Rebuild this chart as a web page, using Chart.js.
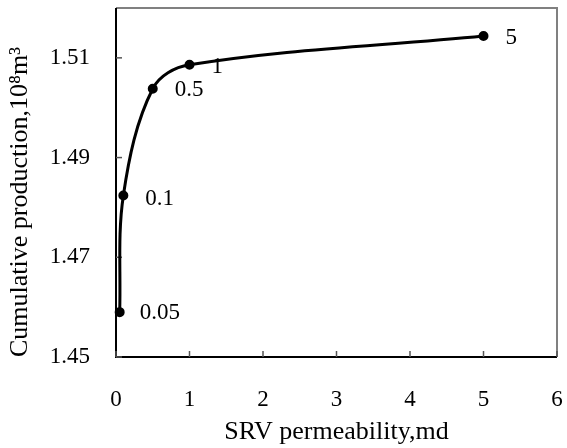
<!DOCTYPE html>
<html>
<head>
<meta charset="utf-8">
<script src="https://cdn.jsdelivr.net/npm/chart.js@4"></script>
<style>
  html, body { margin: 0; padding: 0; background: #fff; }
  #wrap { width: 567px; height: 448px; }
</style>
</head>
<body>
<div id="wrap"><canvas id="chart" width="567" height="448"></canvas></div>
<script>
// SRV permeability vs cumulative production
const permeability = [0.05, 0.1, 0.5, 1, 5];
const production = [1.459, 1.4824, 1.5038, 1.5086, 1.5144];
const pointLabels = ['0.05', '0.1', '0.5', '1', '5'];
const yTicks = [1.45, 1.47, 1.49, 1.51];
const xTicks = [0, 1, 2, 3, 4, 5, 6];

const FONT = 'Liberation Serif';
const SIZE = 23;
const TITLE_SIZE = 26;

// offsets for point labels (px, from the point)
const labelOffsets = [[20, 1], [22, 3], [22, 1], [22, 2], [22, 2]];

const pointLabelPlugin = {
  id: 'pointLabels',
  afterDatasetsDraw(chart) {
    const ctx = chart.ctx;
    const meta = chart.getDatasetMeta(0);
    ctx.save();
    ctx.font = SIZE + 'px ' + FONT;
    ctx.fillStyle = '#000';
    ctx.textBaseline = 'middle';
    ctx.textAlign = 'left';
    meta.data.forEach((pt, i) => {
      ctx.fillText(pointLabels[i], pt.x + labelOffsets[i][0], pt.y + labelOffsets[i][1]);
    });
    ctx.restore();
  }
};

// inward tick marks and box frame
const frameTicks = {
  id: 'frameTicks',
  beforeDatasetsDraw(chart) {
    const { ctx, chartArea: a, scales } = chart;
    ctx.save();
    ctx.strokeStyle = '#808080';
    ctx.lineWidth = 2;
    ctx.beginPath();
    ctx.moveTo(a.left, a.top);
    ctx.lineTo(a.right, a.top);
    ctx.lineTo(a.right, a.bottom);
    ctx.stroke();
    ctx.strokeStyle = '#000';
    ctx.beginPath();
    ctx.moveTo(a.left, a.top);
    ctx.lineTo(a.left, a.bottom);
    ctx.lineTo(a.right, a.bottom);
    ctx.stroke();
    ctx.strokeStyle = '#555';
    ctx.lineWidth = 1.5;
    xTicks.forEach(v => {
      const x = scales.x.getPixelForValue(v);
      ctx.beginPath();
      ctx.moveTo(x, a.bottom);
      ctx.lineTo(x, a.bottom - 6);
      ctx.stroke();
    });
    yTicks.forEach(v => {
      const y = scales.y.getPixelForValue(v);
      ctx.beginPath();
      ctx.moveTo(a.left, y);
      ctx.lineTo(a.left + 6, y);
      ctx.stroke();
    });
    ctx.restore();
  }
};

new Chart(document.getElementById('chart'), {
  type: 'scatter',
  data: {
    datasets: [{
      data: permeability.map((x, i) => ({ x: x, y: production[i] })),
      showLine: true,
      borderColor: '#000',
      backgroundColor: '#000',
      borderWidth: 3,
      pointRadius: 3.5,
      tension: 0.35
    }]
  },
  options: {
    responsive: false,
    animation: false,
    clip: false,
    layout: { padding: { top: 8, right: 10, left: 0, bottom: 0 } },
    plugins: { legend: { display: false }, tooltip: { enabled: false } },
    scales: {
      x: {
        type: 'linear',
        min: 0,
        max: 6,
        afterBuildTicks: s => { s.ticks = xTicks.map(v => ({ value: v })); },
        afterFit: s => { s.height = 91; s.paddingLeft = 0; s.paddingRight = 0; },
        grid: { display: false, drawTicks: false },
        border: { display: false },
        ticks: {
          color: '#000',
          font: { family: FONT, size: SIZE },
          padding: 29
        },
        title: {
          display: true,
          text: 'SRV permeability,md',
          color: '#000',
          font: { family: FONT, size: TITLE_SIZE },
          padding: { top: 0, bottom: 0 }
        }
      },
      y: {
        min: 1.45,
        max: 1.52,
        afterBuildTicks: s => { s.ticks = yTicks.map(v => ({ value: v })); },
        afterFit: s => { s.width = 116; s.paddingTop = 0; s.paddingBottom = 0; },
        grid: { display: false, drawTicks: false },
        border: { display: false },
        ticks: {
          color: '#000',
          font: { family: FONT, size: SIZE },
          padding: 26,
          callback: v => v.toFixed(2)
        },
        title: {
          display: true,
          align: 'start',
          text: 'Cumulative production,10⁸m³',
          color: '#000',
          font: { family: FONT, size: TITLE_SIZE },
          padding: { top: 5, bottom: 0 }
        }
      }
    }
  },
  plugins: [pointLabelPlugin, frameTicks]
});
</script>
</body>
</html>
